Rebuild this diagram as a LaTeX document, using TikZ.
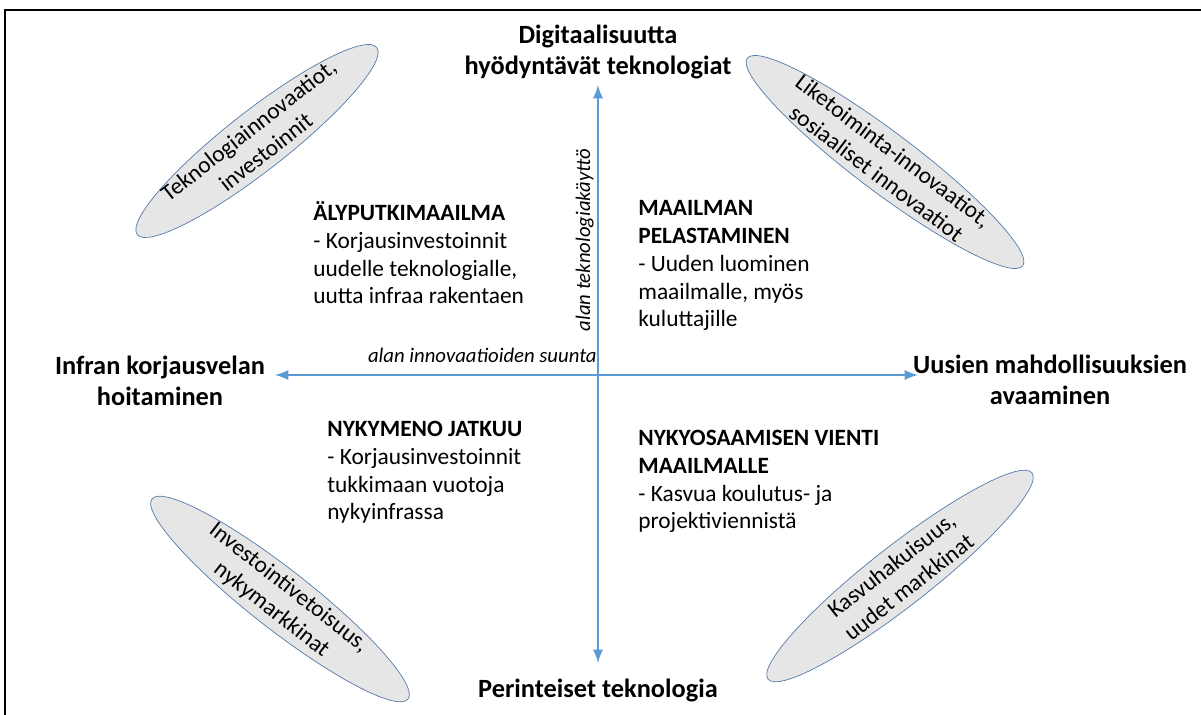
\documentclass[tikz,border=0pt]{standalone}
\usepackage{fontspec}
\setmainfont{Carlito}
\usepackage{tikz}
\usetikzlibrary{arrows,shapes,positioning}
\definecolor{axisblue}{RGB}{91,155,213}
\definecolor{rimblue}{RGB}{84,122,168}
\definecolor{ovalgray}{RGB}{230,230,230}

\begin{document}
\begin{tikzpicture}[x=0.02cm,y=-0.02cm,>=latex,
    axis/.style = {line width=1.6pt, draw=axisblue, <->},
    endlabel/.style = {font=\fontsize{15}{17.6}\selectfont\bfseries, align=center},
    quad/.style = {font=\fontsize{13.3}{15.9}\selectfont, align=left, anchor=base west, inner sep=0pt},
    oval/.style = {shape=ellipse, draw=rimblue, thin, fill=ovalgray, inner xsep=0pt, inner ysep=-3pt,
                   minimum width=6cm, minimum height=1.2cm, align=center,
                   font=\fontsize{13.3}{15.9}\selectfont},
    axislabel/.style = {font=\fontsize{11.8}{14}\selectfont\itshape, inner sep=0pt}
    ]
\useasboundingbox (0,0) rectangle (1201,715);
% frame
\draw[line width=1.1pt] (5,715) -- (5,10) -- (1201,10);

% axes
\coordinate (O) at (598,375);
\coordinate (up) at (598,85);
\coordinate (down) at (598,663);
\coordinate (lft) at (275,375);
\coordinate (rgt) at (918,375);
\draw[axis] (down) -- (up);
\draw[axis] (lft) -- (rgt);

\node[axislabel, anchor=base east] (suunta) at (597,363) {alan innovaatioiden suunta};
\node[axislabel, rotate=90, anchor=base] (kaytto) at (590,240) {alan teknologiakäyttö};

% axis ends
\node[endlabel] (digi) at (598,52) {Digitaalisuutta\\hyödyntävät teknologiat};
\node[endlabel] (perint) at (598,690) {Perinteiset teknologia};
\node[endlabel] (infra) at (160,381) {Infran korjausvelan\\hoitaminen};
\node[endlabel] (uusien) at (1050,380) {Uusien mahdollisuuksien\\avaaminen};

% quadrants (base = last line)
\node[quad] (aly) at (313,304) {\textbf{ÄLYPUTKIMAAILMA}\\- Korjausinvestoinnit\\uudelle teknologialle,\\uutta infraa rakentaen};
\node[quad] (pelast) at (638,327) {\textbf{MAAILMAN}\\\textbf{PELASTAMINEN}\\- Uuden luominen\\maailmalle, myös\\kuluttajille};
\node[quad] (nyky) at (327,520) {\textbf{NYKYMENO JATKUU}\\- Korjausinvestoinnit\\tukkimaan vuotoja\\nykyinfrassa};
\node[quad] (vienti) at (638,529) {\textbf{NYKYOSAAMISEN VIENTI}\\\textbf{MAAILMALLE}\\- Kasvua koulutus- ja\\projektiviennistä};

% ovals in the corners
\node[oval, rotate=38] (tekno) at (257,141) {Teknologiainnovaatiot,\\investoinnit};
\node[oval, rotate=-37, minimum width=6.9cm] (liike) at (885,162) {Liketoiminta-innovaatiot,\\sosiaaliset innovaatiot};
\node[oval, rotate=-38, minimum width=6.5cm] (invest) at (280,599) {Investointivetoisuus,\\nykymarkkinat};
\node[oval, rotate=38, minimum width=6.7cm] (kasvu) at (900,576) {Kasvuhakuisuus,\\uudet markkinat};
\end{tikzpicture}
\end{document}
